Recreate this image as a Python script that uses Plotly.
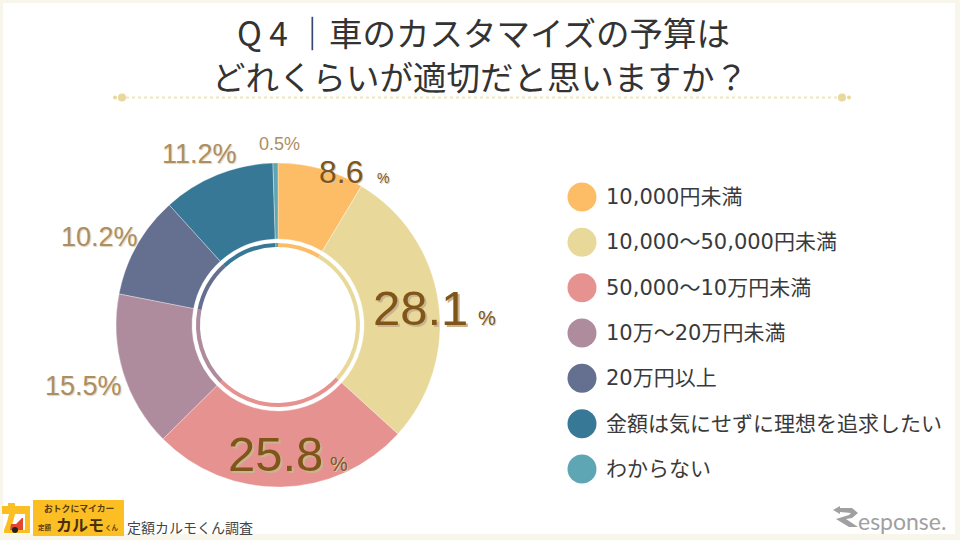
import plotly.graph_objects as go

categories = ["10,000円未満", "10,000～50,000円未満", "50,000～10万円未満", "10万～20万円未満",
              "20万円以上", "金額は気にせずに理想を追求したい", "わからない"]
values = [8.6, 28.1, 25.8, 15.5, 10.2, 11.2, 0.5]
colors = ["#FDBD66", "#E8D99A", "#E69291", "#AE8B9D", "#656F8F", "#377896", "#5FA6B4"]
title_lines = ["Q 4 ｜車のカスタマイズの予算は", "どれくらいが適切だと思いますか？"]
source = "定額カルモくん調査"

W, H = 960, 540
JP = "Noto Sans CJK JP"
LEG = "DejaVu Sans, Noto Sans CJK JP"
SANS = "Liberation Sans"
BROWN = "#7F5519"
TAN = "#AD8E62"
CX, CY, R = 278, 325, 162


def px(x): return x / W
def py(y): return 1 - y / H


def pie_trace(radius, hole, line_w):
    return go.Pie(values=values, labels=categories, sort=False, direction="clockwise", rotation=0,
                  hole=hole, textinfo="none", hoverinfo="label+percent", showlegend=False,
                  marker=dict(colors=colors, line=dict(color="rgba(255,255,255,0.55)", width=line_w)),
                  domain=dict(x=[px(CX - radius), px(CX + radius)], y=[py(CY + radius), py(CY - radius)]))


fig = go.Figure()
fig.add_trace(pie_trace(R, 86 / R, 0.6))
fig.add_trace(pie_trace(82, 78 / 82, 0))
fig.add_trace(go.Scatter(x=[0] * len(categories), y=list(range(len(categories))), mode="markers",
                         marker=dict(size=29, color=colors, line=dict(width=0)), hovertext=categories,
                         hoverinfo="text", showlegend=False, cliponaxis=False))


def txt(x, y, s, size, color="#333333", font=JP, xanchor="center", shadow=None, weight=None):
    f = dict(size=size, color=color, family=font)
    if shadow:
        f["shadow"] = shadow
    if weight:
        f["weight"] = weight
    return dict(x=px(x), y=py(y), xref="paper", yref="paper", text=s, showarrow=False, font=f,
                xanchor=xanchor, yanchor="middle", borderpad=0, borderwidth=0)


S_BIG = "2px 2px 0px #C9B48F"
S_SMALL = "1px 1px 0px #D9CDB4"
S_TAN = "1px 1px 1px #DDD3BF"
annotations = [
    txt(483, 32, title_lines[0], 33.5),
    txt(480, 76, title_lines[1], 33.5),
    txt(341, 172, "8.6", 32, BROWN, SANS, shadow=S_SMALL),
    txt(383, 178, "%", 14, BROWN, SANS, shadow=S_SMALL),
    txt(420, 308, "28.1", 49, BROWN, SANS, shadow=S_BIG),
    txt(487, 318, "%", 20, BROWN, SANS, shadow=S_SMALL),
    txt(275, 454, "25.8", 49, BROWN, SANS, shadow=S_BIG),
    txt(339, 464, "%", 20, BROWN, SANS, shadow=S_SMALL),
    txt(199, 154, "11.2%", 27, TAN, SANS, shadow=S_TAN),
    txt(99, 237, "10.2%", 27, TAN, SANS, shadow=S_TAN),
    txt(83, 386, "15.5%", 27, TAN, SANS, shadow=S_TAN),
    txt(279, 144, "0.5%", 18, TAN, SANS),
    txt(127, 527, source, 14, "#444444", xanchor="left"),
    txt(79, 509, "おトクにマイカー", 8.8, "#5A3A10", weight="bold"),
    txt(45, 527, "定額", 6.5, "#5A3A10", weight="bold"),
    txt(80, 524, "カルモ", 16, "#4A2E0A", weight="bold"),
    txt(112, 527, "くん", 6.5, "#5A3A10", weight="bold"),
    txt(858, 521, "esponse.", 23, "#A0A0A0", "Lato", xanchor="left"),
]
for i, c in enumerate(categories):
    annotations.append(dict(x=0.73, y=i, xref="x", yref="y", text=c, showarrow=False, xanchor="left",
                            yanchor="middle", font=dict(size=21, color="#3A3A3A", family=LEG)))

shapes = [
    dict(type="rect", xref="paper", yref="paper", x0=px(3), x1=px(955), y0=py(534), y1=py(3),
         fillcolor="#FFFFFF", line=dict(width=0), layer="below"),
    dict(type="line", xref="paper", yref="paper", x0=px(126), x1=px(840), y0=py(97.5), y1=py(97.5),
         line=dict(color="#EFE6BE", width=2, dash="dot"), layer="below"),
]
for x, r in [(115, 2), (122, 4), (842, 4), (849, 2)]:
    shapes.append(dict(type="circle", xref="paper", yref="paper", x0=px(x - r), x1=px(x + r),
                       y0=py(97.5 + r), y1=py(97.5 - r), fillcolor="#E8D99A", line=dict(width=0), layer="below"))
# logo block
shapes.append(dict(type="rect", xref="paper", yref="paper", x0=px(33), x1=px(124), y0=py(536), y1=py(500),
                   fillcolor="#FBBF24", line=dict(width=0), layer="below"))


def poly(points, fill):
    d = "M " + " L ".join(f"{px(x)} {py(y)}" for x, y in points) + " Z"
    return dict(type="path", xref="paper", yref="paper", path=d, fillcolor=fill, line=dict(width=0), layer="below")


# emblem and Response arrow
shapes += [
    poly([(2, 506), (8, 506), (8, 503), (15, 503), (15, 506), (30, 506), (30, 533), (4, 533), (4, 530), (7, 522),
          (9, 514), (2, 514)], "#FBBF24"),
    poly([(15, 514), (25, 514), (25, 530), (10, 530), (13, 522)], "#FFFFFF"),
    poly([(10, 530), (11, 524), (16, 524), (22, 518), (23, 518), (23, 530)], "#E0472F"),
    dict(type="circle", xref="paper", yref="paper", x0=px(12), x1=px(18), y0=py(533), y1=py(527),
         fillcolor="#222222", line=dict(width=0), layer="below"),
    poly([(833, 510), (840, 506), (840, 508), (852, 508), (858, 513), (852, 518), (846, 519), (858, 527),
          (849, 527), (836, 519), (849, 515), (851, 513), (840, 512), (840, 514)], "#A0A0A0"),
]

fig.update_layout(
    width=W, height=H, autosize=False, margin=dict(l=0, r=0, t=0, b=0),
    paper_bgcolor="#F8F6EA", plot_bgcolor="rgba(0,0,0,0)", showlegend=False,
    xaxis=dict(domain=[px(552), px(612)], range=[-1, 1], visible=False, fixedrange=True),
    yaxis=dict(domain=[py(491.7), py(174.3)], range=[6.5, -0.5], visible=False, fixedrange=True),
    annotations=annotations, shapes=shapes,
)
fig.write_html("out.html", config=dict(displayModeBar=False),
               post_script="document.body.style.margin='0';document.documentElement.style.overflow='hidden';")
